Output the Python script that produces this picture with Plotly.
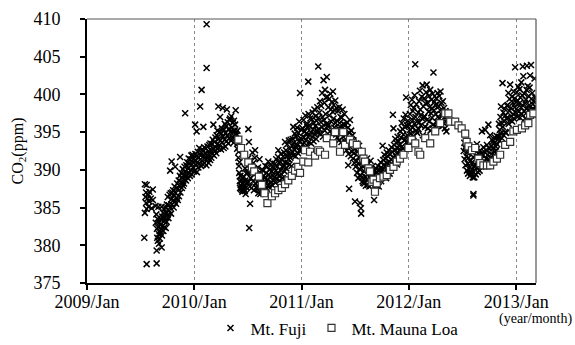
import pandas as pd
import plotly.graph_objects as go

# x = days since 2009-01-01, y = CO2 (ppm)
BASE = pd.Timestamp("2009-01-01")

fuji_2009 = [
    (195, 381.0), (197, 388.1), (197, 384.3), (199, 386.4), (201, 387.0), (201, 385.6), (203, 388.0), (203, 384.8),
    (203, 377.5), (206, 386.2), (209, 386.7), (209, 385.1), (212, 387.1), (212, 385.8), (217, 386.2), (220, 384.9),
    (224, 387.4), (224, 386.0),
    (233, 385.2), (234, 383.0), (236, 384.1), (237, 377.6), (237, 379.3), (238, 382.2), (239, 381.0), (240, 383.5),
    (241, 380.6), (242, 382.4), (243, 385.1), (244, 381.5), (245, 380.2), (246, 383.0), (247, 381.9), (248, 380.9),
    (249, 382.7), (250, 381.6), (252, 383.4), (253, 382.1), (254, 379.7), (254, 385.1), (255, 381.3), (256, 383.8),
    (258, 382.6), (259, 384.3), (260, 381.9), (262, 383.2), (263, 384.8), (264, 382.4), (266, 383.7), (267, 385.0),
    (268, 382.3), (270, 384.3), (271, 383.1), (272, 385.4), (274, 384.0), (275, 386.4), (277, 383.6), (278, 385.3),
    (280, 384.6), (281, 386.7), (283, 389.9), (283, 385.0), (285, 386.9), (286, 384.2), (287, 386.1), (288, 391.1),
    (289, 385.4), (290, 387.0),
    (292, 385.9), (293, 387.3), (295, 385.0), (296, 386.6), (298, 387.8), (299, 385.8), (300, 390.4), (301, 386.9),
    (303, 385.5), (304, 387.6), (306, 386.3), (307, 388.2), (309, 386.0), (310, 387.5), (312, 388.6), (313, 386.5),
    (315, 387.9), (316, 389.2), (317, 391.7), (318, 387.0), (320, 388.4), (321, 389.6), (323, 387.6), (324, 388.9),
    (326, 390.1), (327, 387.9), (329, 389.3), (330, 388.2), (332, 390.4), (333, 388.7), (334, 397.5), (335, 389.8),
    (337, 388.6), (338, 390.6), (340, 389.3), (341, 391.0), (343, 388.9), (344, 390.2), (346, 391.5), (347, 389.6),
    (349, 390.8), (350, 389.2), (352, 391.4), (353, 390.0), (355, 391.9), (356, 389.4), (358, 390.7), (359, 392.0),
    (361, 390.3), (362, 391.4), (364, 389.8),
]

fuji_2010 = [
    (366, 391.2), (367, 389.9), (368, 396.0), (369, 392.1), (371, 390.6), (372, 391.8), (373, 395.1), (374, 389.7),
    (376, 391.0), (377, 392.4), (379, 390.3), (380, 391.6), (382, 392.9), (383, 390.8), (385, 398.4), (386, 391.9),
    (388, 390.5), (389, 392.3), (390, 400.6), (391, 391.2), (393, 392.7), (394, 390.7), (396, 395.7), (397, 391.8),
    (399, 393.0), (400, 390.9), (402, 392.2), (403, 391.4), (405, 392.8), (406, 390.6), (407, 403.5), (407, 409.3),
    (408, 391.9), (410, 393.1), (411, 391.5), (413, 392.5), (414, 390.9), (416, 393.3), (417, 392.0), (419, 391.3),
    (420, 393.5), (422, 392.6), (423, 391.6), (425, 393.4), (426, 392.1), (428, 394.0), (430, 396.0), (431, 392.8),
    (432, 391.9), (434, 393.7), (435, 392.5), (437, 394.3), (438, 393.0), (440, 392.2), (441, 394.6), (443, 393.4),
    (444, 395.2), (446, 392.8), (447, 398.4), (448, 394.1), (450, 393.3), (451, 395.0), (453, 397.0), (454, 393.9),
    (456, 392.7), (457, 394.8), (459, 395.5), (460, 393.6), (462, 398.2), (463, 394.4), (465, 392.9), (466, 395.3),
    (468, 394.0), (469, 396.1), (471, 393.1), (472, 394.9), (474, 395.8), (475, 393.8), (476, 398.0), (478, 394.6),
    (479, 396.3), (481, 393.5), (482, 395.4), (484, 394.2), (485, 396.6), (487, 396.8), (488, 395.0), (490, 393.9),
    (491, 397.1), (493, 395.6), (494, 394.3), (496, 396.2), (497, 395.0), (499, 393.6), (500, 396.5), (502, 395.2),
    (503, 394.1), (504, 396.0), (506, 397.9), (507, 394.8),
    (509, 394.6), (510, 393.9), (511, 392.8), (512, 395.2), (514, 393.5), (515, 391.6), (516, 392.4), (517, 390.5),
    (518, 389.6), (519, 391.0), (520, 388.5), (521, 387.6), (522, 389.2), (523, 388.0), (524, 387.5), (525, 387.8),
    (526, 388.6), (527, 387.3), (528, 388.9), (529, 387.1), (530, 387.4), (531, 388.2), (532, 387.5), (533, 389.1),
    (534, 387.5), (535, 387.9), (536, 388.4), (537, 387.2), (538, 390.2), (539, 388.6), (540, 386.8), (542, 387.7),
    (543, 389.5), (545, 388.3),
    (547, 389.6), (548, 391.5), (549, 395.4), (550, 388.4), (551, 393.7), (552, 382.3), (553, 390.2), (554, 387.8),
    (555, 385.5), (556, 391.2), (557, 388.9), (559, 390.6), (560, 387.6), (562, 389.9), (563, 392.3), (565, 388.5),
    (566, 390.9), (568, 387.3), (569, 389.4), (571, 391.6), (572, 392.6), (574, 388.2), (575, 390.1), (576, 387.7),
    (578, 389.0), (579, 387.5), (581, 388.4), (582, 390.3), (583, 386.9), (585, 388.8), (586, 387.6), (587, 391.4),
    (589, 388.1), (590, 386.8), (592, 389.5), (593, 387.9), (594, 388.6), (596, 387.2), (597, 390.0), (598, 388.3),
    (600, 387.0), (601, 389.2), (603, 387.8), (604, 388.9), (606, 387.4), (607, 390.5),
    (609, 388.3), (610, 389.6), (612, 387.5), (613, 390.4), (614, 388.7), (616, 387.9), (617, 391.1), (618, 389.3),
    (620, 388.1), (621, 390.0), (623, 387.6), (624, 389.1), (626, 390.6), (627, 388.4), (629, 389.8), (630, 388.0),
    (632, 390.9), (633, 389.2), (635, 388.6), (636, 390.3),
    (638, 389.0), (640, 390.8), (641, 388.3), (643, 389.9), (644, 391.4), (646, 388.8), (647, 390.4), (649, 389.5),
    (650, 391.7), (651, 392.6), (653, 389.2), (654, 390.9), (656, 388.6), (657, 391.1), (659, 390.0), (660, 392.1),
    (662, 389.4), (663, 391.3), (665, 390.4), (666, 388.9), (668, 391.8),
    (669, 390.6), (671, 392.3), (672, 389.8), (674, 393.7), (675, 391.0), (677, 392.6), (678, 390.2), (680, 391.8),
    (681, 393.4), (683, 390.9), (684, 392.2), (686, 391.4), (687, 393.9), (689, 390.7), (690, 392.8), (692, 391.6),
    (693, 394.0), (695, 392.1), (696, 390.5), (698, 393.2),
    (699, 392.4), (700, 394.1), (702, 395.7), (703, 391.9), (704, 393.6), (706, 392.7), (707, 394.8), (709, 393.1),
    (710, 391.8), (712, 394.4), (713, 392.9), (715, 395.6), (716, 393.3), (718, 392.2), (719, 394.9), (721, 393.8),
    (722, 396.4), (724, 392.6), (725, 400.2), (727, 394.2), (728, 393.0), (729, 395.3),
]

fuji_2011 = [
    (731, 394.0), (732, 392.6), (734, 395.5), (735, 393.4), (737, 396.6), (738, 394.3), (740, 392.9), (741, 395.1),
    (743, 397.2), (744, 393.9), (746, 394.8), (747, 396.0), (749, 393.2), (750, 395.7), (752, 394.4), (753, 401.7),
    (754, 397.4), (756, 393.7), (757, 395.9), (759, 394.6), (760, 396.8),
    (762, 395.0), (763, 393.5), (765, 396.7), (766, 394.4), (768, 397.6), (769, 395.3), (771, 393.8), (772, 396.2),
    (774, 398.0), (775, 394.7), (777, 395.8), (778, 397.1), (780, 394.1), (781, 396.5), (783, 395.2), (784, 398.3),
    (786, 394.9), (787, 403.7), (788, 396.9),
    (790, 395.4), (791, 397.6), (793, 399.1), (794, 394.8), (796, 396.3), (797, 398.5), (799, 395.7), (800, 400.2),
    (802, 397.0), (803, 394.4), (805, 401.9), (806, 396.6), (808, 398.9), (809, 395.2), (810, 400.6), (812, 397.4),
    (813, 399.6), (815, 396.1), (816, 402.3), (818, 399.7), (819, 395.8),
    (821, 398.3), (822, 396.0), (824, 399.4), (825, 397.2), (827, 395.1), (828, 400.1), (830, 398.0), (831, 396.4),
    (833, 399.0), (834, 394.9), (836, 397.7), (837, 400.4), (839, 396.8), (840, 398.6), (842, 395.6), (843, 397.9),
    (845, 399.2), (846, 396.2), (848, 394.7), (849, 398.2),
    (851, 396.5), (852, 394.3), (854, 397.8), (855, 395.5), (857, 393.9), (858, 398.3), (860, 396.2), (861, 394.8),
    (863, 397.0), (864, 395.6), (866, 393.7), (867, 396.9), (869, 395.0), (870, 398.0), (872, 394.4), (873, 396.1),
    (875, 395.3), (876, 397.4), (878, 393.8), (879, 395.9),
    (882, 394.7), (883, 392.6), (885, 396.3), (886, 393.4), (888, 395.6), (889, 390.6), (890, 392.1), (892, 387.5),
    (893, 394.9), (895, 396.6), (896, 393.0), (898, 391.8), (899, 395.2), (901, 393.7), (902, 392.4), (904, 394.6),
    (905, 391.5), (907, 393.9), (908, 392.2), (910, 390.9),
    (912, 385.8), (913, 392.8), (914, 390.4), (916, 393.5), (917, 391.2), (919, 389.6), (920, 392.4), (922, 390.8),
    (923, 388.9), (925, 391.7), (926, 393.2), (928, 390.1), (929, 385.6), (930, 389.3), (932, 384.9), (933, 384.2),
    (934, 391.0), (935, 389.0), (937, 390.5), (938, 388.5), (940, 388.3), (941, 391.3),
    (943, 389.8), (944, 388.2), (946, 390.6), (947, 389.1), (949, 387.9), (950, 390.2), (952, 388.7), (953, 391.5),
    (955, 389.4), (956, 388.0), (958, 390.8), (959, 389.6), (961, 387.8), (962, 390.0), (964, 388.9), (965, 391.2),
    (967, 389.3), (968, 388.1), (970, 390.4), (971, 389.0),
    (974, 389.4), (975, 388.3), (977, 386.0), (978, 389.9), (980, 388.6), (981, 387.4), (983, 390.2), (984, 388.9),
    (986, 387.9), (987, 389.7), (989, 388.4), (990, 390.5), (992, 389.2), (993, 387.8), (995, 390.0), (996, 388.8),
    (998, 389.6), (999, 391.0), (1001, 388.5), (1002, 390.3),
    (1004, 390.1), (1005, 389.0), (1006, 393.2), (1008, 391.3), (1009, 389.6), (1011, 390.7), (1012, 392.0),
    (1014, 389.3), (1015, 391.5), (1017, 390.4), (1018, 388.9), (1020, 392.3), (1021, 390.9), (1023, 389.8),
    (1024, 391.8), (1026, 390.2), (1027, 392.6), (1029, 391.1), (1030, 389.5), (1032, 392.1), (1033, 390.6),
    (1035, 391.4), (1036, 393.0), (1038, 390.8), (1039, 392.4), (1041, 397.3), (1042, 391.6), (1043, 395.5),
    (1045, 393.3), (1046, 390.9), (1048, 392.7), (1049, 394.1), (1051, 391.8), (1052, 393.6), (1054, 392.2),
    (1055, 390.7), (1057, 394.4), (1058, 392.9), (1060, 391.5), (1061, 393.8), (1063, 392.5),
    (1065, 393.4), (1066, 395.1), (1068, 392.5), (1069, 394.3), (1071, 396.2), (1072, 393.1), (1074, 395.4),
    (1075, 392.8), (1077, 394.7), (1078, 396.8), (1080, 393.9), (1081, 395.7), (1083, 394.0), (1084, 397.3),
    (1086, 399.6), (1087, 393.6), (1089, 395.9), (1090, 394.6), (1092, 396.5), (1093, 393.2),
]

fuji_2012 = [
    (1096, 396.0), (1097, 394.2), (1099, 397.4), (1100, 395.3), (1102, 398.6), (1103, 394.8), (1105, 396.7),
    (1106, 399.3), (1108, 395.6), (1109, 397.8), (1111, 394.5), (1112, 398.2), (1114, 396.1), (1115, 399.9),
    (1117, 404.0), (1118, 397.0), (1120, 395.2), (1121, 398.7), (1123, 396.4), (1124, 394.9),
    (1127, 397.6), (1128, 395.4), (1130, 399.1), (1131, 396.3), (1133, 400.5), (1134, 398.0), (1136, 395.9),
    (1137, 397.3), (1139, 399.7), (1140, 396.8), (1142, 401.2), (1143, 394.6), (1145, 398.4), (1146, 396.9),
    (1148, 399.5), (1149, 397.1), (1151, 395.7), (1152, 398.8), (1154, 400.3),
    (1156, 401.3), (1157, 396.6), (1159, 398.9), (1160, 395.5), (1162, 397.7), (1163, 399.8), (1165, 396.4),
    (1166, 398.3), (1168, 400.6), (1169, 395.2), (1171, 397.5), (1172, 399.3), (1174, 396.9), (1175, 398.1),
    (1177, 400.1), (1178, 396.0), (1179, 402.9), (1181, 397.9), (1182, 399.0), (1184, 395.8), (1185, 398.6),
    (1187, 397.4), (1188, 399.5), (1190, 396.3), (1191, 398.7), (1193, 400.2), (1194, 397.0), (1196, 395.9),
    (1197, 398.4), (1199, 399.8), (1200, 396.8), (1202, 397.9), (1203, 400.4), (1205, 396.5), (1206, 398.9),
    (1208, 397.3), (1209, 395.8), (1211, 399.1), (1212, 397.6), (1214, 396.2), (1215, 398.2), (1217, 396.9),
    (1218, 395.5), (1220, 397.8), (1221, 396.4), (1223, 395.1),
    (1282, 392.5), (1284, 393.6), (1285, 391.4), (1287, 392.9), (1288, 390.6), (1290, 393.2), (1291, 391.8),
    (1293, 389.9), (1294, 392.3), (1296, 390.8), (1297, 389.5), (1299, 391.6), (1300, 393.0), (1302, 390.3),
    (1303, 389.2), (1305, 391.2), (1306, 389.8), (1307, 389.6), (1308, 390.9),
    (1310, 392.4), (1311, 390.1), (1313, 389.0), (1314, 391.7), (1315, 386.8), (1315, 386.6), (1317, 390.4),
    (1318, 389.0), (1320, 392.8), (1321, 390.7), (1323, 389.4), (1324, 391.9), (1326, 390.3), (1327, 393.4),
    (1329, 391.1), (1330, 389.7), (1332, 392.1), (1333, 390.5), (1335, 391.4), (1336, 389.9), (1338, 392.6),
    (1340, 391.3), (1341, 390.4), (1343, 392.2), (1344, 395.1), (1346, 390.8), (1347, 391.9), (1349, 393.0),
    (1350, 390.5), (1352, 392.4), (1353, 391.1), (1355, 395.3), (1356, 390.7), (1358, 392.6), (1359, 391.5),
    (1361, 393.3), (1362, 390.9), (1364, 392.0), (1366, 396.0), (1367, 391.4),
    (1370, 392.8), (1372, 394.6), (1373, 391.6), (1375, 393.2), (1376, 392.1), (1378, 394.0), (1379, 391.3),
    (1381, 392.9), (1382, 393.8), (1384, 391.9), (1385, 393.5), (1387, 392.4), (1388, 394.3), (1390, 391.8),
    (1391, 393.1), (1393, 392.6), (1394, 394.5), (1396, 393.4), (1397, 392.0), (1399, 394.1),
    (1401, 394.4), (1402, 396.1), (1404, 393.9), (1405, 395.3), (1407, 397.0), (1408, 394.8), (1409, 398.4),
    (1411, 396.2), (1412, 394.2), (1414, 401.5), (1415, 395.7), (1417, 397.6), (1418, 394.6), (1420, 396.4),
    (1421, 398.1), (1423, 395.0), (1424, 397.2), (1426, 394.9), (1427, 396.8), (1429, 398.5),
    (1431, 396.9), (1432, 398.6), (1434, 400.2), (1435, 396.1), (1437, 397.8), (1438, 399.4), (1440, 401.3),
    (1441, 396.6), (1443, 398.2), (1444, 397.1), (1446, 399.7), (1447, 396.4), (1449, 398.9), (1450, 397.4),
    (1452, 400.4), (1453, 396.8), (1455, 398.3), (1456, 399.5), (1457, 403.6), (1459, 397.6), (1460, 399.0),
]

fuji_2013 = [
    (1462, 398.1), (1463, 400.3), (1465, 397.0), (1466, 399.2), (1468, 401.0), (1469, 397.7), (1471, 398.8),
    (1472, 400.7), (1474, 396.9), (1475, 399.6), (1477, 398.3), (1478, 401.6), (1480, 397.4), (1481, 399.9),
    (1483, 403.7), (1484, 398.5), (1485, 402.4), (1487, 397.8), (1488, 400.1), (1490, 398.9), (1491, 396.8),
    (1493, 399.3), (1494, 397.5), (1496, 400.6), (1497, 403.8), (1499, 398.2), (1500, 401.1), (1502, 397.9),
    (1503, 399.8), (1505, 398.6), (1506, 400.9), (1508, 402.5), (1509, 397.6), (1511, 403.9), (1512, 399.4),
    (1514, 398.0), (1515, 400.2), (1517, 398.7), (1518, 397.3),
    (1520, 399.1), (1521, 398.0), (1523, 402.1), (1524, 397.4), (1525, 399.6), (1526, 398.4), (1527, 397.9),
]

mauna_loa = [
    (515, 394.0), (524, 392.9), (535, 392.0), (549, 391.0), (561, 390.3), (569, 389.8), (585, 389.1), (595, 388.0),
    (604, 386.9), (614, 385.6), (629, 386.5), (640, 386.9), (651, 387.3), (663, 387.6), (674, 388.1), (685, 388.6),
    (697, 389.2), (708, 389.9), (719, 390.4), (725, 389.6), (736, 391.1), (742, 392.6), (753, 391.0), (759, 392.4),
    (776, 391.9), (787, 392.6), (793, 392.4), (810, 392.0), (816, 394.2), (838, 393.5), (844, 395.0), (861, 392.4),
    (872, 395.0), (878, 393.3), (895, 394.0), (905, 393.5), (918, 393.3), (935, 392.4), (941, 391.5), (946, 391.1),
    (958, 390.2), (963, 389.8), (969, 388.4), (975, 388.7), (980, 387.1), (986, 388.2), (997, 388.9), (1009, 389.1),
    (1020, 389.3), (1031, 390.0), (1043, 390.4), (1054, 391.1), (1065, 391.5), (1077, 392.0), (1094, 392.9),
    (1105, 394.0), (1117, 393.5), (1128, 392.4), (1134, 392.0), (1151, 394.2), (1168, 393.5), (1185, 395.1),
    (1202, 396.2), (1219, 397.5), (1230, 397.5), (1236, 396.4), (1253, 396.4), (1264, 395.9), (1275, 395.5),
    (1287, 394.8), (1292, 393.7), (1298, 393.1), (1310, 392.6), (1321, 392.9), (1332, 391.5), (1338, 390.9),
    (1349, 390.6), (1361, 390.6), (1372, 390.6), (1383, 391.1), (1395, 391.5), (1406, 392.0), (1423, 393.3),
    (1440, 393.7), (1451, 395.1), (1463, 395.3), (1480, 395.5), (1491, 395.9), (1502, 396.2), (1508, 397.3),
    (1519, 397.5),
]

year_ticks = ["2009-01-01", "2010-01-01", "2011-01-01", "2012-01-01", "2013-01-01"]
year_labels = ["2009/Jan", "2010/Jan", "2011/Jan", "2012/Jan", "2013/Jan"]
y_ticks = [375, 380, 385, 390, 395, 400, 405, 410]
x_end = "2013-03-09"

fuji = fuji_2009 + fuji_2010 + fuji_2011 + fuji_2012 + fuji_2013
fuji_x = [BASE + pd.Timedelta(days=d) for d, _ in fuji]
fuji_y = [v for _, v in fuji]
ml_x = [BASE + pd.Timedelta(days=d) for d, _ in mauna_loa]
ml_y = [v for _, v in mauna_loa]

FONT = "Liberation Serif"

fig = go.Figure()
fig.add_trace(go.Scatter(
    x=fuji_x, y=fuji_y, mode="markers", name="Mt. Fuji",
    marker=dict(symbol="x-thin", size=6, color="black", line=dict(width=1.5, color="black")),
))
fig.add_trace(go.Scatter(
    x=ml_x, y=ml_y, mode="markers", name="Mt. Mauna Loa",
    marker=dict(symbol="square", size=7, color="white", line=dict(width=1.2, color="#333333")),
))

fig.update_layout(
    width=575, height=345,
    margin=dict(l=87, r=39, t=19, b=62, autoexpand=False),
    paper_bgcolor="white", plot_bgcolor="white",
    font=dict(family=FONT, size=17, color="black"),
    showlegend=True,
    legend=dict(orientation="h", x=0.275, xanchor="left", y=-0.172, yanchor="middle",
                font=dict(family=FONT, size=17, color="black"), itemwidth=30,
                bgcolor="rgba(0,0,0,0)"),
    xaxis=dict(
        type="date", range=[year_ticks[0], x_end], automargin=False,
        tickmode="array", tickvals=year_ticks, ticktext=year_labels,
        ticks="outside", ticklen=5, tickwidth=1.5, tickcolor="black",
        showline=True, linewidth=2, linecolor="black",
        showgrid=True, gridcolor="#888888", griddash="dot", gridwidth=1,
        zeroline=False, tickfont=dict(family=FONT, size=18, color="black"),
        ticklabelstandoff=-4,
    ),
    yaxis=dict(
        range=[375, 410], tickmode="array", tickvals=y_ticks, automargin=False,
        ticks="outside", ticklen=5, tickwidth=1.5, tickcolor="black",
        showline=True, linewidth=2, linecolor="black",
        showgrid=False, zeroline=False,
        tickfont=dict(family=FONT, size=18, color="black"),
        ticklabelstandoff=16,
        title=dict(text="CO<sub>2</sub>(ppm)", font=dict(family=FONT, size=16, color="black"), standoff=6),
    ),
    shapes=[
        dict(type="line", xref="paper", yref="paper", x0=0, x1=1, y0=1, y1=1,
             line=dict(color="#555555", width=1.2)),
        dict(type="line", xref="paper", yref="paper", x0=1, x1=1, y0=0, y1=1,
             line=dict(color="#555555", width=1.2)),
    ],
    annotations=[
        dict(text="(year/month)", xref="paper", yref="paper", x=1.084, y=-0.138,
             xanchor="right", yanchor="middle", showarrow=False,
             font=dict(family=FONT, size=14, color="black")),
    ],
)

fig.write_html("out.html", config={"displayModeBar": False},
               post_script="document.body.style.margin='0px';")
